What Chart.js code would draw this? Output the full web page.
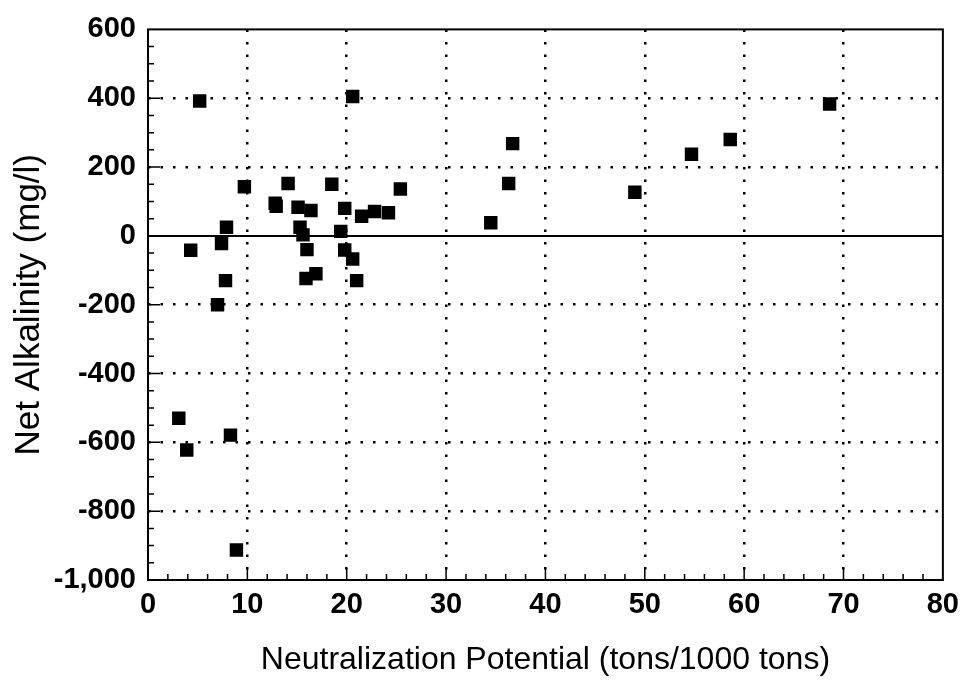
<!DOCTYPE html>
<html>
<head>
<meta charset="utf-8">
<script src="https://cdn.jsdelivr.net/npm/chart.js@4.4.1/dist/chart.umd.min.js"></script>
<style>
  html, body { margin: 0; padding: 0; background: #fff; }
  #wrap { width: 967px; height: 681px; }
</style>
</head>
<body>
<div id="wrap"><canvas id="grafico"></canvas></div>
<script>
// valores
const neutralization = [5.2, 9.7, 7.9, 7.4, 4.3, 7.8, 7.0, 12.8, 12.9, 14.1, 15.1, 16.4, 15.3, 15.6,
  16.0, 15.9, 16.9, 18.5, 20.6, 19.8, 19.4, 19.8, 20.6, 21.0, 21.5, 22.8, 24.2, 25.4,
  3.1, 3.9, 8.3, 8.9, 34.5, 36.3, 36.7, 49.0, 54.7, 58.6, 68.6]
const alkalinity = [392, 143, 25, -22, -42, -130, -200, 95, 86, 152, 83, 74, 25, 3,
  -40, -124, -110, 150, 405, 80, 13, -41, -67, -130, 57, 71, 67, 136,
  -530, -622, -579, -913, 38, 152, 268, 127, 237, 280, 383]

const xTicks = [0, 10, 20, 30, 40, 50, 60, 70, 80]
const yTicks = [-1000, -800, -600, -400, -200, 0, 200, 400, 600]

const points = neutralization.map((x, i) => ({ x, y: alkalinity[i] }))

Chart.defaults.color = '#000'
Chart.defaults.font.family = '"Liberation Sans", Arial, sans-serif'

// moldura, linha do zero e marcas menores
const moldura = {
  id: 'moldura',
  beforeDatasetsDraw(chart) {
    const { ctx, chartArea: a, scales: { x, y } } = chart
    ctx.save()
    ctx.strokeStyle = '#000'
    ctx.lineWidth = 2
    ctx.strokeRect(a.left, a.top, a.right - a.left, a.bottom - a.top)
    const y0 = y.getPixelForValue(0)
    ctx.beginPath()
    ctx.moveTo(a.left, y0)
    ctx.lineTo(a.right, y0)
    ctx.stroke()
    ctx.lineWidth = 1.5
    ctx.beginPath()
    for (let v = 2; v < 80; v += 2) {
      const px = x.getPixelForValue(v)
      const len = v % 10 === 0 ? 12 : 6
      ctx.moveTo(px, a.bottom)
      ctx.lineTo(px, a.bottom - len)
    }
    for (let v = -950; v < 600; v += 50) {
      const py = y.getPixelForValue(v)
      const len = v % 200 === 0 ? 12 : 6
      ctx.moveTo(a.left, py)
      ctx.lineTo(a.left + len, py)
    }
    ctx.stroke()
    ctx.restore()
  }
}

const pontilhado = (c) => {
  const v = c.tick ? c.tick.value : null
  return (v === 0 || v === 80 || v === 600 || v === -1000) ? 'rgba(0,0,0,0)' : '#000'
}

const config = {
  type: 'scatter',
  data: {
    datasets: [{
      data: points,
      backgroundColor: '#000',
      borderWidth: 0,
      pointStyle: 'rect',
      pointRadius: 9.5,
      pointHoverRadius: 9.5
    }]
  },
  options: {
    responsive: true,
    maintainAspectRatio: false,
    animation: false,
    layout: { padding: { top: 16, right: 22, left: 0, bottom: 0 } },
    plugins: { legend: { display: false }, tooltip: { enabled: false } },
    scales: {
      x: {
        type: 'linear',
        min: 0, max: 80,
        afterBuildTicks: (s) => { s.ticks = xTicks.map(v => ({ value: v })) },
        afterFit: (s) => { s.height = 101 },
        grid: { color: pontilhado, lineWidth: 2.5, drawTicks: false },
        border: { display: false, dash: [2.5, 10] },
        ticks: { font: { size: 29, weight: 'bold' }, padding: 8 },
        title: {
          display: true,
          text: 'Neutralization Potential (tons/1000 tons)',
          font: { size: 32 },
          padding: { top: 0, bottom: 2 }
        }
      },
      y: {
        type: 'linear',
        min: -1000, max: 600,
        afterBuildTicks: (s) => { s.ticks = yTicks.map(v => ({ value: v })) },
        afterFit: (s) => { s.width = 148 },
        grid: { color: pontilhado, lineWidth: 2.5, drawTicks: false },
        border: { display: false, dash: [2.5, 10] },
        ticks: { font: { size: 29, weight: 'bold' }, padding: 12 },
        title: {
          display: true,
          text: 'Net Alkalinity (mg/l)',
          font: { size: 35 },
          padding: { top: 8, bottom: 0 }
        }
      }
    }
  },
  plugins: [moldura]
}

const grafico = new Chart(document.getElementById('grafico'), config)
</script>
</body>
</html>
